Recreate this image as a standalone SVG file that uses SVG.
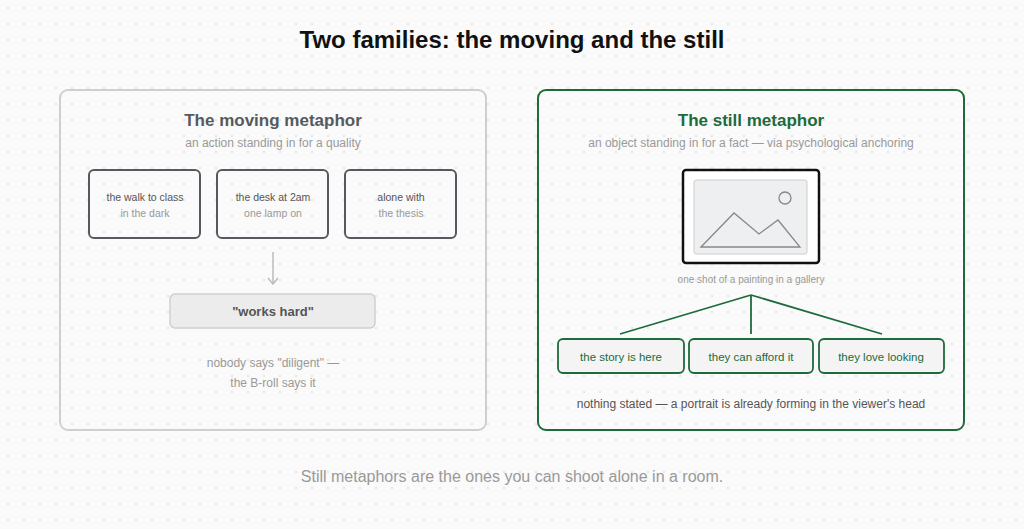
<svg xmlns="http://www.w3.org/2000/svg" width="1024" height="529" viewBox="0 0 1024 529">
<defs>
<pattern id="dots" width="16" height="16" patternUnits="userSpaceOnUse"><circle cx="8" cy="8" r="0.9" fill="#dcdcdc"/></pattern>
<marker id="arr" viewBox="0 0 12 12" refX="11" refY="6" markerWidth="12" markerHeight="12" markerUnits="userSpaceOnUse" orient="auto"><path d="M5,1 L11,6 L5,11" fill="none" stroke="#bbb" stroke-width="1.5"/></marker>
<style>
text{font-family:"Liberation Sans",Arial,sans-serif;text-anchor:middle}
.card{fill:none;stroke:#555a60;stroke-width:2}
.t1{font-size:10.5px;fill:#555}
.t2{font-size:10.5px;fill:#999}
.gbox{fill:#f3f4f3;stroke:#1d6b3a;stroke-width:1.8}
.gt{font-size:11.5px;fill:#1d6b3a}
</style>
</defs>
<rect width="1024" height="529" fill="#fafafa"/>
<rect width="1024" height="529" fill="url(#dots)"/>
<text x="512" y="48" font-size="24" font-weight="bold" fill="#111">Two families: the moving and the still</text>
<g id="moving">
<rect x="60" y="90" width="426" height="340" rx="8" fill="none" stroke="#cfcfcf" stroke-width="2"/>
<text x="273" y="126" font-size="17" font-weight="bold" fill="#555a60">The moving metaphor</text>
<text x="273" y="147" font-size="12" fill="#999">an action standing in for a quality</text>
</g>
<g id="m1"><rect class="card" x="89" y="170" width="111" height="68" rx="5"/><text class="t1" x="145" y="201">the walk to class</text><text class="t2" x="145" y="217">in the dark</text></g>
<g id="m2"><rect class="card" x="217" y="170" width="111" height="68" rx="5"/><text class="t1" x="273" y="201">the desk at 2am</text><text class="t2" x="273" y="217">one lamp on</text></g>
<g id="m3"><rect class="card" x="345" y="170" width="111" height="68" rx="5"/><text class="t1" x="401" y="201">alone with</text><text class="t2" x="401" y="217">the thesis</text></g>
<g id="works"><rect x="170" y="294" width="205" height="34" rx="5" fill="#ececec" stroke="#cfcfcf" stroke-width="1.5"/><text x="273" y="316" font-size="13" font-weight="bold" fill="#555">"works hard"</text></g>
<text x="273" y="367" font-size="12" fill="#999">nobody says "diligent" —</text>
<text x="273" y="387" font-size="12" fill="#999">the B-roll says it</text>
<g id="still">
<rect x="538" y="90" width="426" height="340" rx="8" fill="none" stroke="#1d6b3a" stroke-width="2"/>
<text x="751" y="126" font-size="17" font-weight="bold" fill="#1d6b3a">The still metaphor</text>
<text x="751" y="147" font-size="12" fill="#999">an object standing in for a fact — via psychological anchoring</text>
</g>
<g id="painting">
<rect x="683" y="170" width="136" height="93" rx="3" fill="#fff" stroke="#111" stroke-width="2.5"/>
<rect x="694" y="180" width="113" height="74" rx="2" fill="#eeeff0" stroke="#ccc" stroke-width="1"/>
<circle cx="785" cy="198" r="6" fill="none" stroke="#888" stroke-width="1.3"/>
<path d="M701,247 L734,213 L759,234 L778,220 L800,247 Z" fill="none" stroke="#888" stroke-width="1.3"/>
<text x="751" y="283" font-size="10" fill="#999">one shot of a painting in a gallery</text>
</g>
<g id="s1"><rect class="gbox" x="558" y="339" width="126" height="34" rx="5"/><text class="gt" x="621" y="361">the story is here</text></g>
<g id="s2"><rect class="gbox" x="689" y="339" width="124" height="34" rx="5"/><text class="gt" x="751" y="361">they can afford it</text></g>
<g id="s3"><rect class="gbox" x="819" y="339" width="125" height="34" rx="5"/><text class="gt" x="881" y="361">they love looking</text></g>
<text x="751" y="408" font-size="12" fill="#555">nothing stated — a portrait is already forming in the viewer's head</text>
<g id="connectors">
<line x1="273" y1="252" x2="273" y2="284" stroke="#bbb" stroke-width="1.5" marker-end="url(#arr)"/>
<g stroke="#1d6b3a" stroke-width="1.8" fill="none">
<line x1="751" y1="295" x2="620" y2="334"/>
<line x1="751" y1="295" x2="751" y2="334"/>
<line x1="751" y1="295" x2="882" y2="334"/>
</g>
</g>
<text x="512" y="482" font-size="16" fill="#999">Still metaphors are the ones you can shoot alone in a room.</text>
</svg>
